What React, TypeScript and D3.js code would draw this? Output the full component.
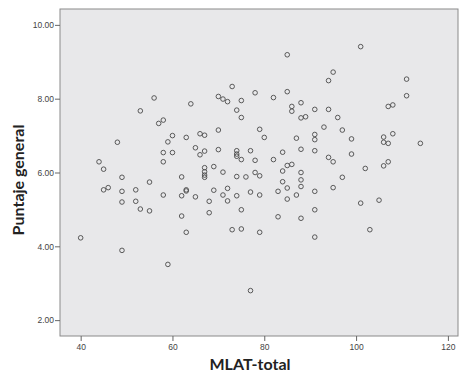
import React, { useEffect, useRef } from 'react'
import * as d3 from 'd3'

// MLAT-total score for each student
const mlat = [
  40, 44, 45, 45, 46, 48, 49, 49, 49, 49, 52, 52, 53, 53, 55, 55, 56, 57, 58, 58,
  58, 58, 59, 59, 60, 60, 62, 62, 62, 63, 63, 63, 63, 64, 65, 65, 66, 66, 67, 67,
  67, 67, 67, 67, 68, 68, 69, 69, 70, 70, 70, 71, 71, 71, 72, 72, 72, 73, 73, 74,
  74, 74, 74, 74, 74, 75, 75, 75, 75, 75, 76, 77, 77, 77, 78, 78, 78, 79, 79, 79,
  79, 80, 82, 82, 83, 83, 84, 84, 84, 85, 85, 85, 85, 85, 86, 86, 86, 87, 87, 88,
  88, 88, 88, 88, 88, 88, 89, 91, 91, 91, 91, 91, 91, 91, 93, 94, 94, 94, 95, 95,
  95, 96, 97, 97, 99, 99, 101, 101, 102, 103, 105, 106, 106, 106, 107, 107, 107, 108, 108, 111,
  111, 114,
]

// Puntaje general, same order as mlat
const puntaje = [
  4.23, 6.29, 6.09, 5.53, 5.59, 6.82, 5.87, 5.49, 5.2, 3.89, 5.53, 5.22, 7.67, 5.01, 5.74, 4.96, 8.02, 7.33, 7.42, 6.54,
  6.29, 5.39, 6.83, 3.51, 7.0, 6.54, 5.88, 5.37, 4.82, 4.38, 6.95, 5.5, 5.53, 7.86, 6.67, 5.34, 7.05, 6.48, 7.01, 6.58,
  6.13, 6.02, 5.93, 5.87, 5.22, 4.91, 6.16, 5.52, 8.06, 7.15, 6.62, 7.99, 6.01, 5.39, 7.92, 5.57, 5.23, 8.33, 4.45, 7.69,
  6.59, 6.5, 6.44, 5.89, 5.37, 7.95, 7.49, 6.35, 4.99, 4.47, 5.88, 6.59, 5.47, 2.8, 8.16, 6.33, 6.0, 7.17, 5.91, 5.39,
  4.38, 6.95, 8.03, 6.35, 5.49, 4.8, 6.55, 6.04, 5.75, 9.19, 8.19, 6.19, 5.58, 5.28, 7.79, 7.66, 6.22, 6.93, 5.39, 7.89,
  7.48, 6.63, 6.0, 5.8, 5.62, 4.76, 7.51, 7.71, 7.03, 6.89, 6.59, 5.49, 4.99, 4.25, 7.23, 8.49, 7.71, 6.41, 8.72, 6.29,
  5.59, 7.49, 7.15, 5.87, 6.91, 6.5, 9.41, 5.17, 6.11, 4.45, 5.25, 6.96, 6.82, 6.18, 7.79, 6.79, 6.29, 7.83, 7.05, 8.53,
  8.08, 6.79,
]

const xTicks = [40, 60, 80, 100, 120]
const yTicks = [2, 4, 6, 8, 10]

export default function App() {
  const svgRef = useRef<SVGSVGElement>(null)

  useEffect(() => {
    if (!svgRef.current) return
    const svg = d3.select(svgRef.current)
    svg.selectAll('*').remove()

    const left = 60
    const right = 458
    const top = 9
    const bottom = 336

    const x = d3.scaleLinear().domain([35.5, 122.2]).range([left, right])
    const y = d3.scaleLinear().domain([1.57, 10.43]).range([bottom, top])

    svg.append('rect')
      .attr('x', left)
      .attr('y', top)
      .attr('width', right - left)
      .attr('height', bottom - top)
      .attr('fill', '#e8e8ea')
      .attr('stroke', '#8a8a8a')
      .attr('stroke-width', 1)

    const xAxis = svg.append('g')
      .attr('transform', `translate(0,${bottom})`)
      .call(d3.axisBottom(x).tickValues(xTicks).tickSize(5).tickPadding(3).tickFormat(d3.format('d')))
    const yAxis = svg.append('g')
      .attr('transform', `translate(${left},0)`)
      .call(d3.axisLeft(y).tickValues(yTicks).tickSize(5).tickPadding(1).tickFormat(d3.format('.2f')))

    for (const ax of [xAxis, yAxis]) {
      ax.select('.domain').remove()
      ax.selectAll('.tick line').attr('stroke', '#666')
      ax.selectAll('.tick text')
        .style('font-family', '"Liberation Sans", Arial, sans-serif')
        .style('font-size', '8.5px')
        .style('fill', '#444')
    }

    svg.append('g')
      .selectAll('circle')
      .data(mlat)
      .join('circle')
      .attr('cx', (d) => x(d))
      .attr('cy', (d, i) => y(puntaje[i]))
      .attr('r', 2.3)
      .attr('fill', 'none')
      .attr('stroke', '#4a4a4a')
      .attr('stroke-width', 0.9)

    svg.append('text')
      .attr('x', 250)
      .attr('y', 370)
      .attr('text-anchor', 'middle')
      .style('font-family', 'Lato, "Open Sans", sans-serif')
      .style('font-weight', '700')
      .style('font-size', '16px')
      .style('fill', '#222')
      .text('MLAT-total')

    svg.append('text')
      .attr('transform', 'translate(24,180) rotate(-90)')
      .attr('text-anchor', 'middle')
      .style('font-family', 'Lato, "Open Sans", sans-serif')
      .style('font-weight', '700')
      .style('font-size', '16px')
      .style('fill', '#222')
      .text('Puntaje general')
  }, [])

  return (
    <svg
      ref={svgRef}
      width={459}
      height={374}
      style={{ position: 'absolute', left: 0, top: 0, background: '#fff' }}
    />
  )
}
